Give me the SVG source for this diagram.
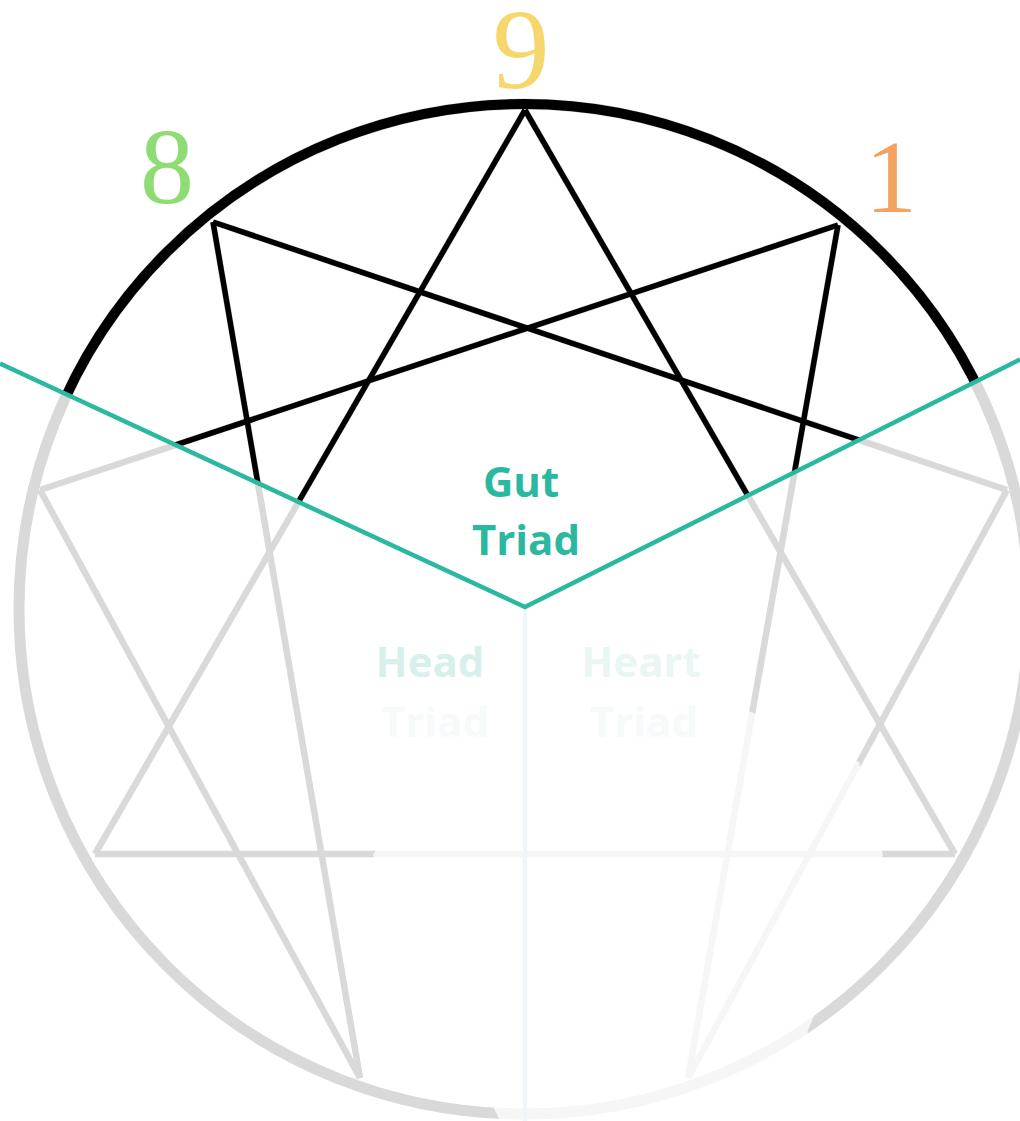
<svg xmlns="http://www.w3.org/2000/svg" width="1020" height="1121" viewBox="0 0 1020 1121">
<style>
.gray{fill:none;stroke:#d9d9d9;stroke-width:6.5}
.blk{fill:none;stroke:#000;stroke-width:5.5}
.gcirc{fill:none;stroke:#d9d9d9;stroke-width:11}
.bcirc{fill:none;stroke:#000;stroke-width:10}
.teal{fill:none;stroke:#2bb8a0;stroke-width:4.5}
.lbl{font-family:"Open Sans","Liberation Sans",sans-serif;font-weight:700;font-size:42px;text-anchor:middle}
.num{font-family:"Liberation Serif","DejaVu Serif",serif;text-anchor:middle}
</style>
<defs>
<clipPath id="top"><polygon points="0,0 1020,0 1020,359.5 525,607 0,363.5"/></clipPath>
<g id="star">
<line x1="525" y1="110" x2="955" y2="854"/>
<line x1="955" y1="854" x2="95" y2="854"/>
<line x1="95" y1="854" x2="525" y2="110"/>
<line x1="838" y1="225" x2="688" y2="1078"/>
<line x1="688" y1="1078" x2="1007" y2="490"/>
<line x1="1007" y1="490" x2="213" y2="222"/>
<line x1="213" y1="222" x2="360" y2="1078"/>
<line x1="360" y1="1078" x2="40" y2="490"/>
<line x1="40" y1="490" x2="838" y2="225"/>
</g>
</defs>
<rect width="1020" height="1121" fill="#fff"/>
<g id="lower">
<circle class="gcirc" cx="524" cy="609" r="505"/>
<use href="#star" class="gray"/>
</g>
<g id="upper" clip-path="url(#top)">
<circle class="bcirc" cx="524" cy="609" r="505"/>
<use href="#star" class="blk"/>
</g>
<polygon id="fade" points="525,607 859,762 883,855 808,1030 795,1121 500,1121 373,855" fill="#fff" fill-opacity="0.75"/>
<g id="connectors">
<line x1="525" y1="607" x2="525" y2="1121" stroke="#f0f6f8" stroke-width="4"/>
<polyline class="teal" points="0,363.5 525,607 1020,359.5"/>
</g>
<g id="gut"><text class="lbl" x="521" y="497" fill="#2bb8a0">Gut</text><text class="lbl" x="526" y="555" fill="#2bb8a0">Triad</text></g>
<g id="head"><text class="lbl" x="430" y="677" fill="#d8f0ec">Head</text><text class="lbl" x="435" y="737" fill="#f6fafa">Triad</text></g>
<g id="heart"><text class="lbl" x="641" y="677" fill="#eaf6f4">Heart</text><text class="lbl" x="644" y="737" fill="#f6fafa">Triad</text></g>
<g id="n9"><text class="num" x="521" y="88" font-size="114" fill="#f5d76e">9</text></g>
<g id="n8"><text class="num" x="167" y="203" font-size="108" fill="#8fdc74">8</text></g>
<g id="n1"><text class="num" x="891" y="212" font-size="104" fill="#f3a35e">1</text></g>
</svg>
